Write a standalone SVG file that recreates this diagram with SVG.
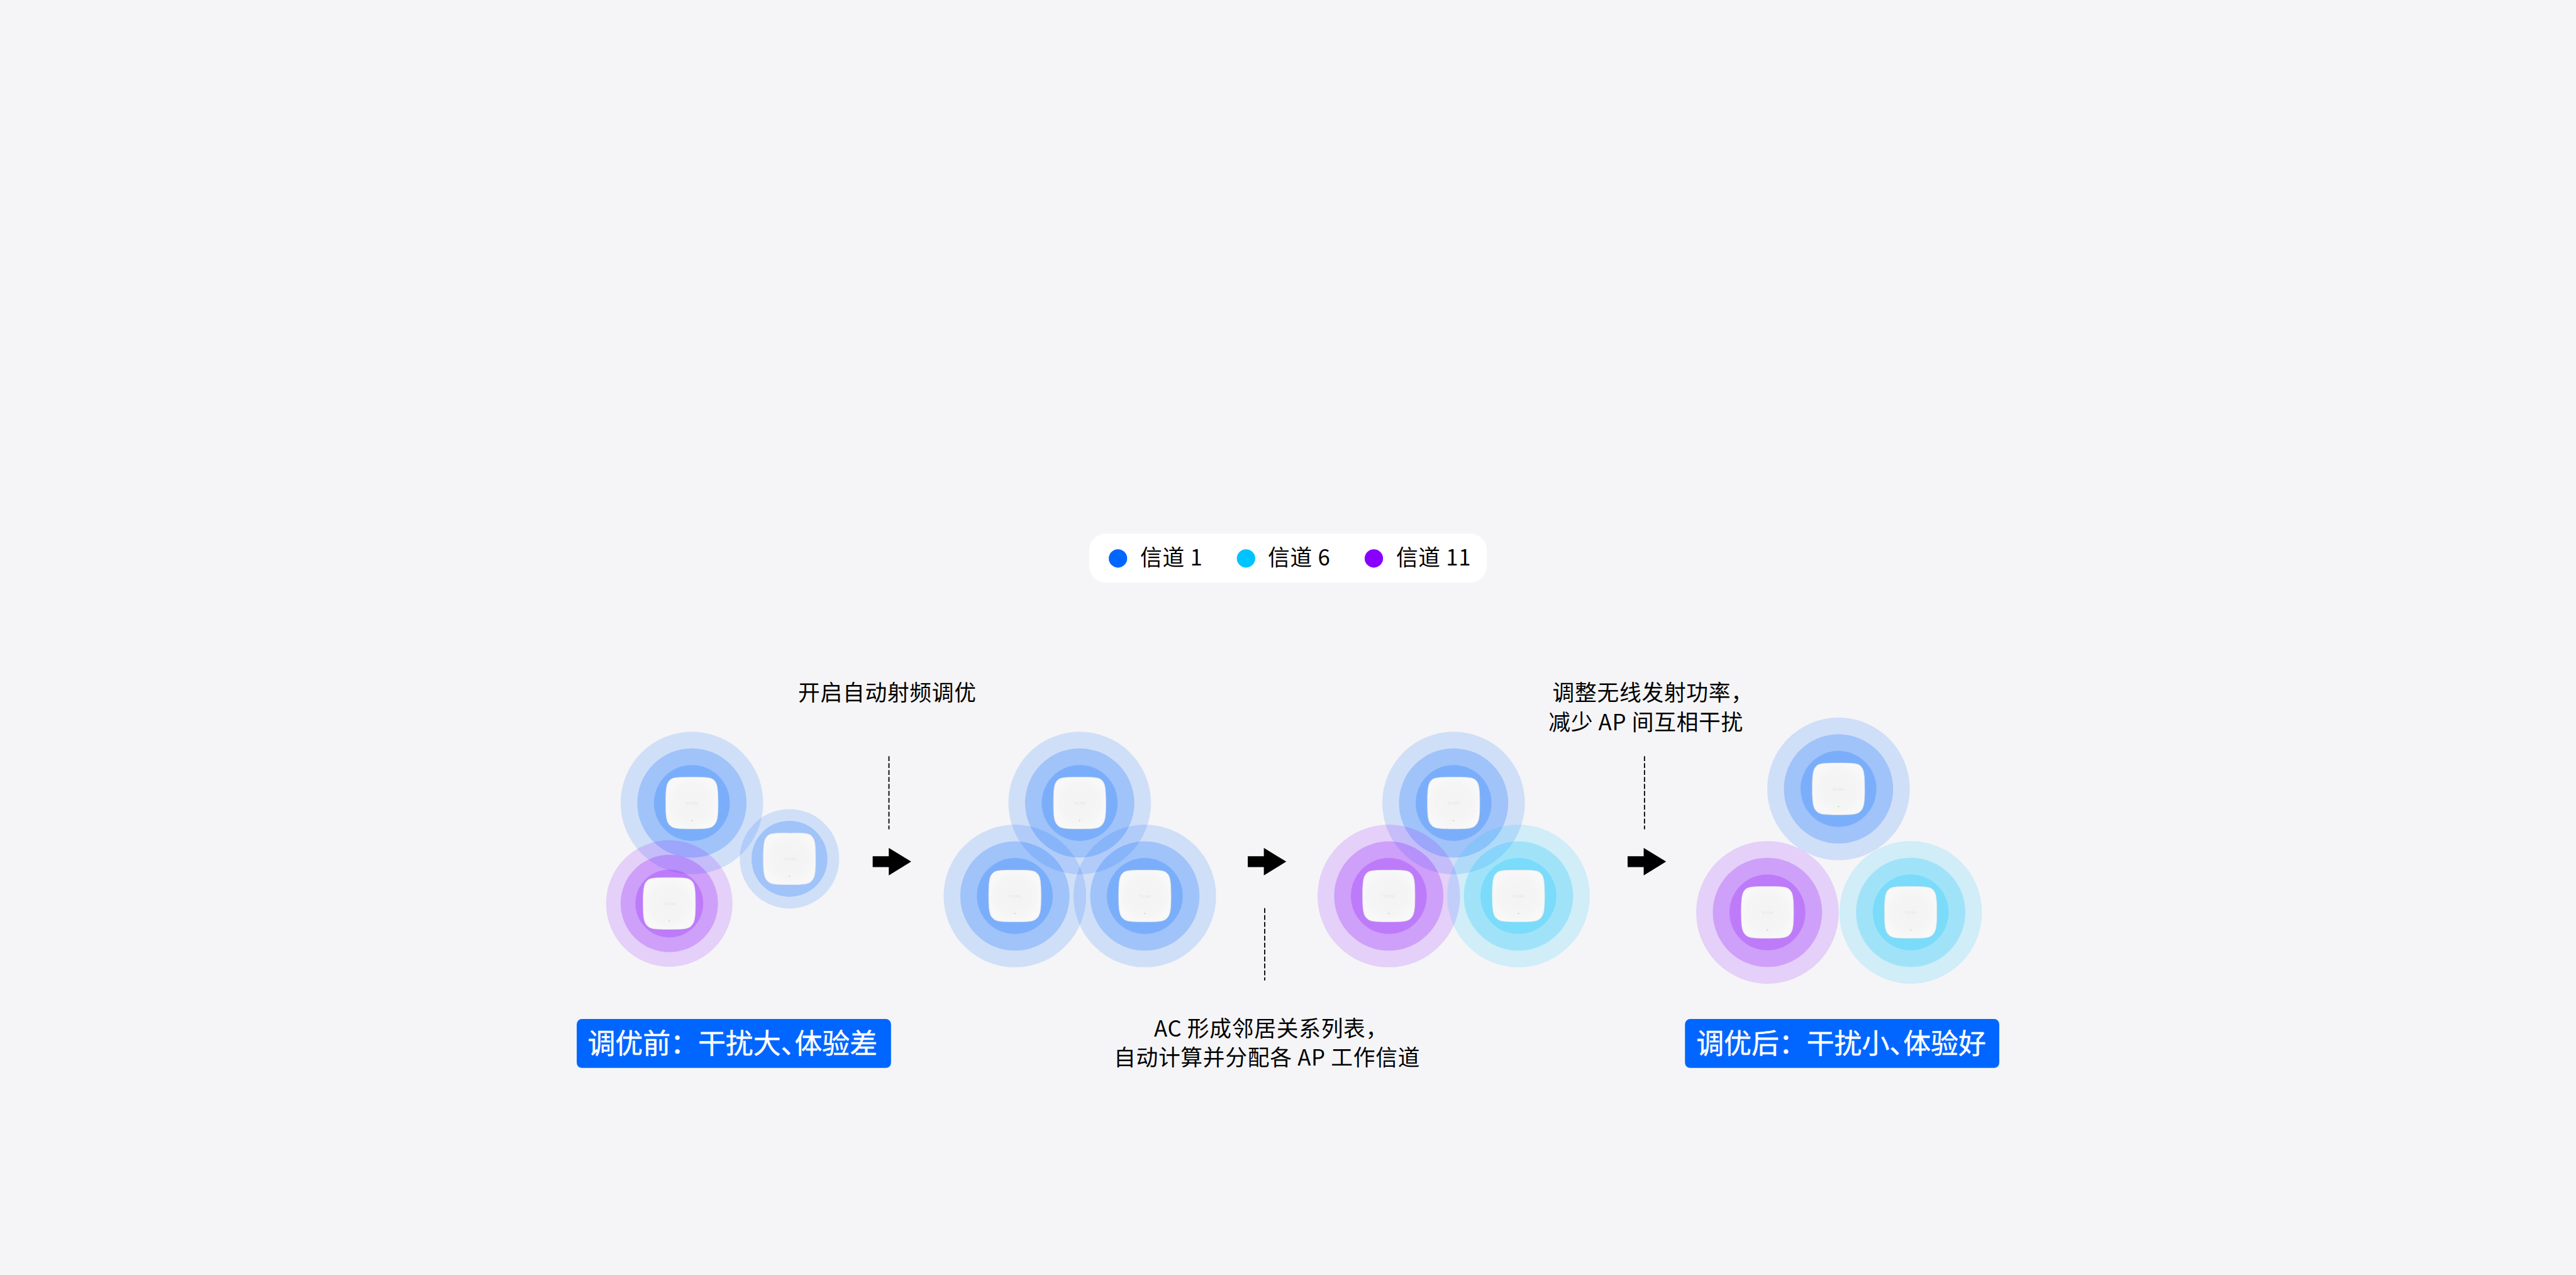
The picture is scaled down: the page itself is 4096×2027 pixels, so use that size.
<svg xmlns="http://www.w3.org/2000/svg" width="4096" height="2027" viewBox="0 0 4096 2027">
<style>
.b{fill:#0066ff}.c{fill:#00c3ff}.p{fill:#8800ff}
.o{opacity:.15}.m,.i{opacity:.23}
.t{font-family:"Noto Sans CJK SC","Noto Sans",sans-serif;font-size:38px;letter-spacing:.8px;fill:#000}
.w{font-family:"Noto Sans CJK SC","Noto Sans",sans-serif;font-size:48px;fill:#fff;stroke:#fff;stroke-width:.5px}
.h{font-feature-settings:"halt"}
.l{font-family:"Liberation Sans",sans-serif;font-size:5.5px;fill:#e6e7e7;text-anchor:middle}
.d{stroke:#000;stroke-width:2;stroke-dasharray:8.5 3.55;fill:none}
</style>
<defs>
<radialGradient id="cg"><stop offset="0" stop-color="#f2f3f2"/><stop offset=".75" stop-color="#f4f5f4"/><stop offset="1" stop-color="#f8f8f8"/></radialGradient>
<g id="card">
<path d="M0,-45C28,-45 35,-44 39,-39C44,-34 45.5,-25 45.5,0C45.5,25 44,33 38,39C33,44 26,45 0,45C-26,45 -33,44 -38,39C-44,33 -45.5,25 -45.5,0C-45.5,-25 -44,-34 -39,-39C-35,-44 -28,-45 0,-45Z" fill="url(#cg)" stroke="#e6e8e8" stroke-width=".8"/>
<circle cy="30.5" r="1" fill="#9be86a"/>
</g>
<polygon id="arrow" points="0,-9.5 28,-9.5 28,-24 67,0 28,24 28,9.5 0,9.5" fill="#000"/>
</defs>
<rect width="4096" height="2027" fill="#f5f5f7"/>
<g transform="scale(.914286)">
<g id="legend">
<rect x="1894" y="928" width="692" height="85" rx="29" fill="#fff"/>
<circle class="b" cx="1944.3" cy="971" r="16"/><text class="t" x="1983" y="983">信道 1</text>
<circle class="c" cx="2167" cy="971" r="16"/><text class="t" x="2205" y="983">信道 6</text>
<circle class="p" cx="2389.3" cy="971" r="16"/><text class="t" x="2428" y="983">信道 11</text>
</g>
<g id="connectors">
<line class="d" x1="1546" y1="1315" x2="1546" y2="1442"/>
<line class="d" x1="2199.5" y1="1579" x2="2199.5" y2="1705"/>
<line class="d" x1="2860" y1="1315" x2="2860" y2="1442"/>
<use href="#arrow" x="1517.7" y="1498.3"/>
<use href="#arrow" x="2170" y="1498.3"/>
<use href="#arrow" x="2830.6" y="1498.3"/>
</g>
<g id="before">
<g id="ap1-1" transform="translate(1203.3 1396.3)"><circle class="b o" r="124"/><circle class="b m" r="95"/><circle class="b i" r="66"/><use href="#card"/><text class="l" y="3">TP-LINK</text></g>
<g id="ap1-2" transform="translate(1373 1493.3)"><circle class="b o" r="86.5"/><circle class="b m" r="66"/><circle class="b i" r="46"/><use href="#card"/><text class="l" y="3">TP-LINK</text></g>
<g id="ap1-3" transform="translate(1164 1571)"><circle class="p o" r="110"/><circle class="p m" r="84.6"/><circle class="p i" r="59"/><use href="#card"/><text class="l" y="3">TP-LINK</text></g>
</g>
<g id="scan">
<g id="ap2-1" transform="translate(1877.7 1396.3)"><circle class="b o" r="124"/><circle class="b m" r="95"/><circle class="b i" r="66"/><use href="#card"/><text class="l" y="3">TP-LINK</text></g>
<g id="ap2-2" transform="translate(1765 1558)"><circle class="b o" r="124"/><circle class="b m" r="95"/><circle class="b i" r="66"/><use href="#card"/><text class="l" y="3">TP-LINK</text></g>
<g id="ap2-3" transform="translate(1991 1558)"><circle class="b o" r="124"/><circle class="b m" r="95"/><circle class="b i" r="66"/><use href="#card"/><text class="l" y="3">TP-LINK</text></g>
</g>
<g id="channels">
<g id="ap3-1" transform="translate(2528 1396.3)"><circle class="b o" r="124"/><circle class="b m" r="95"/><circle class="b i" r="66"/><use href="#card"/><text class="l" y="3">TP-LINK</text></g>
<g id="ap3-2" transform="translate(2415.3 1558)"><circle class="p o" r="124"/><circle class="p m" r="95"/><circle class="p i" r="66"/><use href="#card"/><text class="l" y="3">TP-LINK</text></g>
<g id="ap3-3" transform="translate(2640.8 1558)"><circle class="c o" r="124"/><circle class="c m" r="95"/><circle class="c i" r="66"/><use href="#card"/><text class="l" y="3">TP-LINK</text></g>
</g>
<g id="after">
<g id="ap4-1" transform="translate(3197.4 1371.8)"><circle class="b o" r="124"/><circle class="b m" r="95"/><circle class="b i" r="66"/><use href="#card"/><text class="l" y="3">TP-LINK</text></g>
<g id="ap4-2" transform="translate(3073.8 1586.5)"><circle class="p o" r="124"/><circle class="p m" r="95"/><circle class="p i" r="66"/><use href="#card"/><text class="l" y="3">TP-LINK</text></g>
<g id="ap4-3" transform="translate(3322.9 1586.5)"><circle class="c o" r="124"/><circle class="c m" r="95"/><circle class="c i" r="66"/><use href="#card"/><text class="l" y="3">TP-LINK</text></g>
</g>
<g id="captions">
<text class="t" x="1388" y="1218">开启自动射频调优</text>
<text class="t" x="2700" y="1218">调整无线发射功率，</text>
<text class="t" x="2693" y="1270">减少 AP 间互相干扰</text>
<text class="t" x="2007" y="1802">AC 形成邻居关系列表，</text>
<text class="t" x="1937" y="1853">自动计算并分配各 AP 工作信道</text>
</g>
<g id="label-before">
<rect class="b" x="1003" y="1772" width="546.6" height="85" rx="9"/>
<text class="w" x="1022" y="1832">调优前：干扰大<tspan class="h">、</tspan>体验差</text>
</g>
<g id="label-after">
<rect class="b" x="2930.4" y="1772" width="546.6" height="85" rx="9"/>
<text class="w" x="2950" y="1832">调优后：干扰小<tspan class="h">、</tspan>体验好</text>
</g>
</g>
</svg>
